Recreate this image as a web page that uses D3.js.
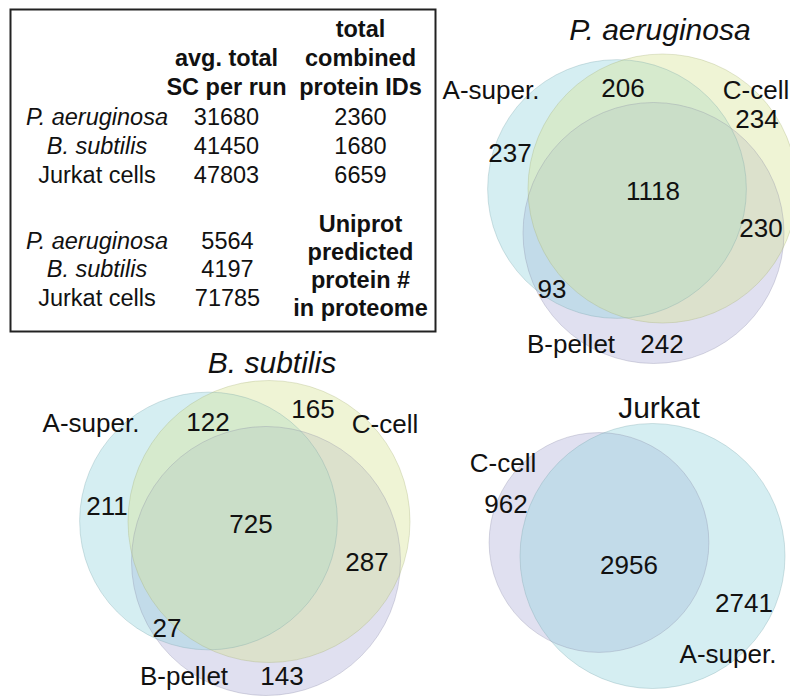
<!DOCTYPE html>
<html>
<head>
<meta charset="utf-8">
<script src="https://cdn.jsdelivr.net/npm/d3@7"></script>
<style>
  html, body { margin: 0; padding: 0; background: #fff; }
  svg { display: block; font-family: "Liberation Sans", Arial, sans-serif; }
</style>
</head>
<body>
<svg id="chart" width="790" height="696"></svg>
<script>
// ---------------- DATA ----------------
const tableRows = ["P. aeruginosa", "B. subtilis", "Jurkat cells"];
const rowItalic = [true, true, false];
const avgSC = [31680, 41450, 47803];
const totalProteinIDs = [2360, 1680, 6659];
const uniprotPredicted = [5564, 4197, 71785];
const headerAvg = ["avg. total", "SC per run"];
const headerTotal = ["total", "combined", "protein IDs"];
const headerUniprot = ["Uniprot", "predicted", "protein #", "in proteome"];

// Venn region keys (letters = sets the region belongs to)
const regionKeys3 = ["A", "B", "C", "AB", "AC", "BC", "ABC"];
const paCounts = [237, 242, 234, 93, 206, 230, 1118];
const bsCounts = [211, 143, 165, 27, 122, 287, 725];
const regionKeys2 = ["A", "C", "AC"];
const jurkatCounts = [2741, 962, 2956];
const setNames3 = { A: "A-super.", B: "B-pellet", C: "C-cell" };
const setNames2 = { A: "A-super.", C: "C-cell" };
const panelTitles = ["P. aeruginosa", "B. subtilis", "Jurkat"];

// ---------------- LAYOUT / STYLE ----------------
const colors = {
  blue:   "rgb(150,212,222)",
  yellow: "rgb(215,228,150)",
  purple: "rgb(177,177,217)"
};
const FILL_OP = 0.4;

const svg = d3.select("#chart");

// ---- table ----
const tableG = svg.append("g");
tableG.append("rect")
  .attr("x", 10.5).attr("y", 9.5).attr("width", 425).attr("height", 322)
  .attr("fill", "none").attr("stroke", "#222").attr("stroke-width", 2);

const xLabel = 97, xC1 = 226.5, xC2 = 360.5;
const fsTable = 23.5;

function tText(x, y, s, opts = {}) {
  tableG.append("text")
    .attr("x", x).attr("y", y)
    .attr("text-anchor", "middle")
    .attr("font-size", fsTable)
    .attr("font-weight", opts.bold ? "bold" : "normal")
    .attr("font-style", opts.italic ? "italic" : "normal")
    .attr("fill", "#111")
    .text(s);
}

const hdrY = d3.scaleLinear().domain([0, 1]).range([36.5, 65.5]);
headerTotal.forEach((s, i) => tText(xC2, hdrY(i), s, { bold: true }));
headerAvg.forEach((s, i) => tText(xC1, hdrY(i + 1), s, { bold: true }));

const row1Y = d3.scaleLinear().domain([0, 1]).range([125, 153.8]);
tableRows.forEach((r, i) => {
  tText(xLabel, row1Y(i), r, { italic: rowItalic[i] });
  tText(xC1, row1Y(i), String(avgSC[i]));
  tText(xC2, row1Y(i), String(totalProteinIDs[i]));
});
const row2Y = d3.scaleLinear().domain([0, 1]).range([248.5, 277.2]);
tableRows.forEach((r, i) => {
  tText(xLabel, row2Y(i), r, { italic: rowItalic[i] });
  tText(xC1 + 1, row2Y(i), String(uniprotPredicted[i]));
});
const uniY = d3.scaleLinear().domain([0, 1]).range([231.5, 259.8]);
headerUniprot.forEach((s, i) => tText(xC2, uniY(i), s, { bold: true }));

// ---- venn helper ----
function setSize(keys, counts, letter) {
  return d3.sum(keys.map((k, i) => k.includes(letter) ? counts[i] : 0));
}

function drawVenn(cfg) {
  const g = svg.append("g");
  const sizes = {};
  cfg.sets.forEach(s => sizes[s] = setSize(cfg.keys, cfg.counts, s));
  const rScale = d3.scaleSqrt()
    .domain([0, d3.max(Object.values(sizes))])
    .range([0, cfg.rMax]);

  const circles = cfg.drawOrder.map(s => ({
    set: s, cx: cfg.centers[s][0], cy: cfg.centers[s][1],
    r: rScale(sizes[s]), color: cfg.colors[s]
  }));

  g.selectAll("circle.fill").data(circles).join("circle")
    .attr("class", "fill")
    .attr("cx", d => d.cx).attr("cy", d => d.cy).attr("r", d => d.r)
    .attr("fill", d => d.color).attr("fill-opacity", FILL_OP)
    .attr("stroke", "none");
  g.selectAll("circle.edge").data(circles).join("circle")
    .attr("class", "edge")
    .attr("cx", d => d.cx).attr("cy", d => d.cy).attr("r", d => d.r)
    .attr("fill", "none")
    .attr("stroke", d => d3.color(d.color).darker(0.8))
    .attr("stroke-opacity", 0.3).attr("stroke-width", 1);

  // title
  g.append("text")
    .attr("x", cfg.title.x).attr("y", cfg.title.y)
    .attr("text-anchor", "middle")
    .attr("font-size", 30)
    .attr("font-style", cfg.title.italic ? "italic" : "normal")
    .attr("fill", "#111")
    .text(cfg.title.text);

  // counts
  g.selectAll("text.count").data(cfg.keys.map((k, i) => ({ k, n: cfg.counts[i] })))
    .join("text").attr("class", "count")
    .attr("x", d => cfg.countPos[d.k][0]).attr("y", d => cfg.countPos[d.k][1])
    .attr("text-anchor", "middle").attr("font-size", 26).attr("fill", "#111")
    .text(d => d.n);

  // set labels
  g.selectAll("text.setname").data(cfg.sets)
    .join("text").attr("class", "setname")
    .attr("x", s => cfg.labelPos[s][0]).attr("y", s => cfg.labelPos[s][1])
    .attr("text-anchor", "middle").attr("font-size", 26).attr("fill", "#111")
    .text(s => cfg.names[s]);
}

// P. aeruginosa
drawVenn({
  keys: regionKeys3, counts: paCounts, sets: ["A", "B", "C"], names: setNames3,
  rMax: 134.5,
  centers: { A: [617, 189], B: [653.5, 233], C: [662.5, 188.5] },
  colors: { A: colors.blue, B: colors.purple, C: colors.yellow },
  drawOrder: ["B", "A", "C"],
  title: { text: panelTitles[0], x: 660, y: 40, italic: true },
  countPos: { A: [510, 162], B: [662, 353], C: [757, 128], AB: [552, 298],
              AC: [623, 97], BC: [761, 237], ABC: [653, 200] },
  labelPos: { A: [491, 99], B: [571, 353], C: [756, 99] }
});

// B. subtilis
drawVenn({
  keys: regionKeys3, counts: bsCounts, sets: ["A", "B", "C"], names: setNames3,
  rMax: 141,
  centers: { A: [208.5, 521], B: [266, 561], C: [269, 521.5] },
  colors: { A: colors.blue, B: colors.purple, C: colors.yellow },
  drawOrder: ["B", "A", "C"],
  title: { text: panelTitles[1], x: 272, y: 373, italic: true },
  countPos: { A: [107, 515], B: [282, 685], C: [313, 418], AB: [167, 637],
              AC: [208, 431], BC: [367, 571], ABC: [251, 533] },
  labelPos: { A: [91, 432], B: [184, 685], C: [385, 433] }
});

// Jurkat
drawVenn({
  keys: regionKeys2, counts: jurkatCounts, sets: ["A", "C"], names: setNames2,
  rMax: 132.5,
  centers: { A: [652.5, 556], C: [599, 542.5] },
  colors: { A: colors.blue, C: colors.purple },
  drawOrder: ["C", "A"],
  title: { text: panelTitles[2], x: 659, y: 418, italic: false },
  countPos: { A: [744, 612], C: [506, 513], AC: [629, 574] },
  labelPos: { A: [728, 663], C: [503, 472] }
});
</script>
</body>
</html>
